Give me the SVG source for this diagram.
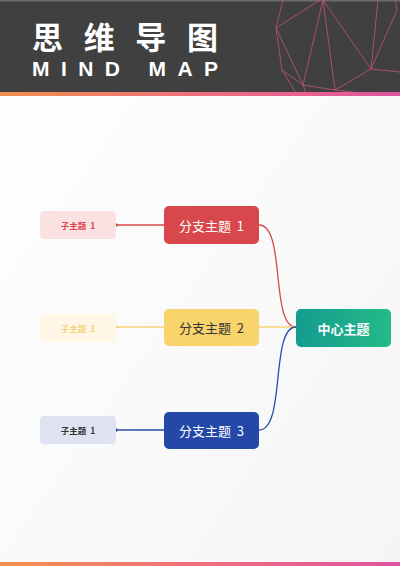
<svg xmlns="http://www.w3.org/2000/svg" width="400" height="566" viewBox="0 0 400 566">
<defs>
<linearGradient id="bar" x1="0" y1="0" x2="1" y2="0">
<stop offset="0" stop-color="#f2904e"/>
<stop offset="0.5" stop-color="#ee6f7e"/>
<stop offset="1" stop-color="#df54a0"/>
</linearGradient>
<linearGradient id="bg" x1="0" y1="0" x2="1" y2="1">
<stop offset="0" stop-color="#ffffff"/>
<stop offset="1" stop-color="#f5f5f5"/>
</linearGradient>
<linearGradient id="center" x1="0" y1="0" x2="1" y2="0">
<stop offset="0" stop-color="#139c90"/>
<stop offset="1" stop-color="#25ba89"/>
</linearGradient>
<style>
.cjk{font-family:"Noto Sans CJK SC","Noto Sans",sans-serif;}
.geo{stroke:#c9507c;stroke-width:0.8;fill:none;}
.conn{fill:none;stroke-width:1.3;}
.child{font-size:8.5px;font-weight:bold;text-anchor:middle;dominant-baseline:central;}
.branch{font-size:13px;text-anchor:middle;dominant-baseline:central;}
</style>
</defs>
<rect x="0" y="0" width="400" height="566" fill="url(#bg)"/>
<g id="header">
<rect x="0" y="0" width="400" height="93" fill="#404040"/>
<rect x="0" y="0" width="400" height="1.5" fill="#6a6a6a"/>
<g class="geo">
<polyline points="283,0 276,28 282,70 303,85 335,90 371,69 378,0"/>
<line x1="276" y1="28" x2="320" y2="0"/>
<line x1="276" y1="28" x2="303" y2="85"/>
<line x1="323" y1="0" x2="303" y2="85"/>
<line x1="323" y1="0" x2="335" y2="90"/>
<line x1="323" y1="0" x2="371" y2="69"/>
<line x1="371" y1="69" x2="397" y2="10"/>
<line x1="371" y1="69" x2="400" y2="72"/>
<line x1="282" y1="70" x2="296" y2="93"/>
<line x1="303" y1="85" x2="306" y2="93"/>
<line x1="335" y1="90" x2="360" y2="93"/>
<line x1="395" y1="0" x2="397" y2="10"/>
</g>
<text x="32" y="49" class="cjk" font-size="31" font-weight="bold" fill="#ffffff" textLength="186" lengthAdjust="spacing">思维导图</text>
<text x="32" y="75.5" font-family="Liberation Sans, Arial, sans-serif" font-size="21" font-weight="bold" fill="#ffffff" textLength="186" lengthAdjust="spacing">MIND MAP</text>
<rect x="0" y="92" width="400" height="4" fill="url(#bar)"/>
</g>
<rect x="0" y="562" width="400" height="4" fill="url(#bar)"/>
<g id="connectors">
<path class="conn" stroke="#d8474b" d="M116,225 H164"/>
<circle cx="116" cy="225" r="1.8" fill="#d8474b"/>
<path class="conn" stroke="#f6d27a" d="M116,327 H164"/>
<circle cx="116" cy="327" r="1.8" fill="#f6d27a"/>
<path class="conn" stroke="#2a4aa6" d="M116,430 H164"/>
<circle cx="116" cy="430" r="1.8" fill="#2a4aa6"/>
<path class="conn" stroke="#d8474b" d="M259,225 C286,225 270,327 296,327"/>
<path class="conn" stroke="#f6d27a" d="M259,327 H296"/>
<path class="conn" stroke="#2a4aa6" d="M259,430 C286,430 270,327 296,327"/>
</g>
<g id="child1">
<rect x="40" y="211" width="76" height="28" rx="4" fill="#fbe1e2"/>
<text x="78" y="225" class="cjk child" fill="#d8474b">子主题&#160;&#160;1</text>
</g>
<g id="child2">
<rect x="40" y="314" width="76" height="28" rx="4" fill="#fff6e6"/>
<text x="78" y="328" class="cjk child" fill="#f6d27a">子主题&#160;&#160;1</text>
</g>
<g id="child3">
<rect x="40" y="416" width="76" height="28" rx="4" fill="#dfe3f1"/>
<text x="78" y="430" class="cjk child" fill="#333333">子主题&#160;&#160;1</text>
</g>
<g id="branch1">
<rect x="164" y="206" width="95" height="38" rx="5" fill="#d8474b"/>
<text x="211.5" y="225" class="cjk branch" fill="#ffffff">分支主题&#160;&#160;1</text>
</g>
<g id="branch2">
<rect x="164" y="309" width="95" height="37" rx="5" fill="#f9d36c"/>
<text x="211.5" y="327.5" class="cjk branch" fill="#333333">分支主题&#160;&#160;2</text>
</g>
<g id="branch3">
<rect x="164" y="412" width="95" height="37" rx="5" fill="#2447a8"/>
<text x="211.5" y="430.5" class="cjk branch" fill="#ffffff">分支主题&#160;&#160;3</text>
</g>
<g id="center">
<rect x="296" y="309" width="95" height="38" rx="5" fill="url(#center)"/>
<text x="343.5" y="328" class="cjk" font-size="13" font-weight="bold" fill="#ffffff" text-anchor="middle" dominant-baseline="central">中心主题</text>
</g>
</svg>
